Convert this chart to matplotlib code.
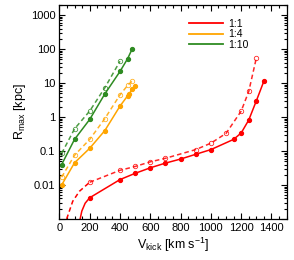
#!/usr/bin/env python3
"""R_max vs kick velocity for three mass ratios (solid/dashed = two models)."""

import matplotlib
matplotlib.use("Agg")
import matplotlib.pyplot as plt
import matplotlib.ticker as mtick
from matplotlib.lines import Line2D

plt.rcParams["font.family"] = ["Liberation Sans", "DejaVu Sans"]
plt.rcParams["mathtext.fontset"] = "custom"
plt.rcParams["mathtext.rm"] = "Liberation Sans"
plt.rcParams["mathtext.it"] = "Liberation Sans"

RED, ORANGE, GREEN = "#ff0000", "#ffa500", "#2e8b22"

# 1:1 (red)
red_solid_v = [200, 400, 500, 600, 700, 800, 900, 1000, 1150, 1200, 1250, 1300, 1350]
red_solid_r = [0.0042, 0.0144, 0.022, 0.032, 0.044, 0.058, 0.08, 0.11, 0.22, 0.34, 0.82, 3.0, 11.5]
red_solid_tail_v = [137, 148, 170, 200]
red_solid_tail_r = [0.001, 0.0017, 0.0029, 0.0042]
red_dash_v = [200, 400, 500, 600, 700, 900, 1000, 1100, 1200, 1250, 1300]
red_dash_r = [0.012, 0.027, 0.035, 0.048, 0.061, 0.11, 0.17, 0.33, 1.5, 5.7, 55]
red_dash_tail_v = [48, 88, 132, 200]
red_dash_tail_r = [0.001, 0.0033, 0.0065, 0.012]

# 1:4 (orange)
orange_solid_v = [15, 100, 200, 300, 400, 450, 460, 480, 500]
orange_solid_r = [0.01, 0.045, 0.12, 0.4, 2.1, 4.2, 4.8, 6.5, 8.0]
orange_dash_v = [15, 100, 200, 300, 400, 450, 480]
orange_dash_r = [0.017, 0.075, 0.22, 0.9, 4.5, 8.5, 11.5]

# 1:10 (green)
green_solid_v = [15, 100, 200, 300, 400, 450, 480]
green_solid_r = [0.04, 0.22, 0.85, 4.8, 22, 52, 100]
green_dash_v = [15, 100, 200, 300, 400]
green_dash_r = [0.085, 0.45, 1.5, 7.3, 44]

labels = ["1:1", "1:4", "1:10"]


def main():
    fig = plt.figure(figsize=(2.94, 2.60), dpi=100)
    ax = fig.add_axes([0.202, 0.158, 0.773, 0.823])

    lw = 1.1
    # smooth low-velocity tails (no markers)
    ax.plot(red_solid_tail_v, red_solid_tail_r, color=RED, lw=lw)
    ax.plot(red_dash_tail_v, red_dash_tail_r, color=RED, lw=lw, ls=(0, (3, 2)))

    sets = [
        (red_solid_v, red_solid_r, red_dash_v, red_dash_r, RED),
        (orange_solid_v, orange_solid_r, orange_dash_v, orange_dash_r, ORANGE),
        (green_solid_v, green_solid_r, green_dash_v, green_dash_r, GREEN),
    ]
    for sv, sr, dv, dr, c in sets:
        ax.plot(dv, dr, color=c, lw=lw, ls=(0, (3, 2)), marker="o", ms=3.2,
                mfc="none", mec=c, mew=0.6, alpha=0.85)
        ax.plot(sv, sr, color=c, lw=lw, marker="o", ms=2.8, mfc=c, mec=c)

    ax.set_yscale("log")
    ax.set_xlim(0, 1500)
    ax.set_ylim(0.001, 2000)

    ax.xaxis.set_major_locator(mtick.MultipleLocator(200))
    ax.xaxis.set_minor_locator(mtick.MultipleLocator(50))
    ax.yaxis.set_major_locator(mtick.LogLocator(base=10))
    ax.yaxis.set_minor_locator(mtick.LogLocator(base=10, subs=range(2, 10)))
    ax.yaxis.set_minor_formatter(mtick.NullFormatter())
    ax.yaxis.set_major_formatter(mtick.FuncFormatter(
        lambda v, p: "" if v < 0.005 else f"{v:g}"))

    ax.tick_params(which="both", direction="in", top=True, right=True,
                   labelsize=8, width=0.8, pad=3)
    ax.tick_params(which="major", length=4)
    ax.tick_params(which="minor", length=2)
    for s in ax.spines.values():
        s.set_linewidth(0.9)

    ax.set_xlabel(r"V$_{\rm kick}$ [km s$^{-1}$]", fontsize=9, labelpad=2)
    ax.set_ylabel(r"R$_{\rm max}$ [kpc]", fontsize=9, labelpad=2)

    handles = [Line2D([], [], color=c, lw=1.3) for c in (RED, ORANGE, GREEN)]
    ax.legend(handles, labels, loc="upper left", bbox_to_anchor=(0.54, 0.97),
              frameon=False, fontsize=7.5, handlelength=3.2,
              handletextpad=0.5, labelspacing=0.05, borderpad=0.2)

    fig.savefig("out.png", dpi=100)


if __name__ == "__main__":
    main()
